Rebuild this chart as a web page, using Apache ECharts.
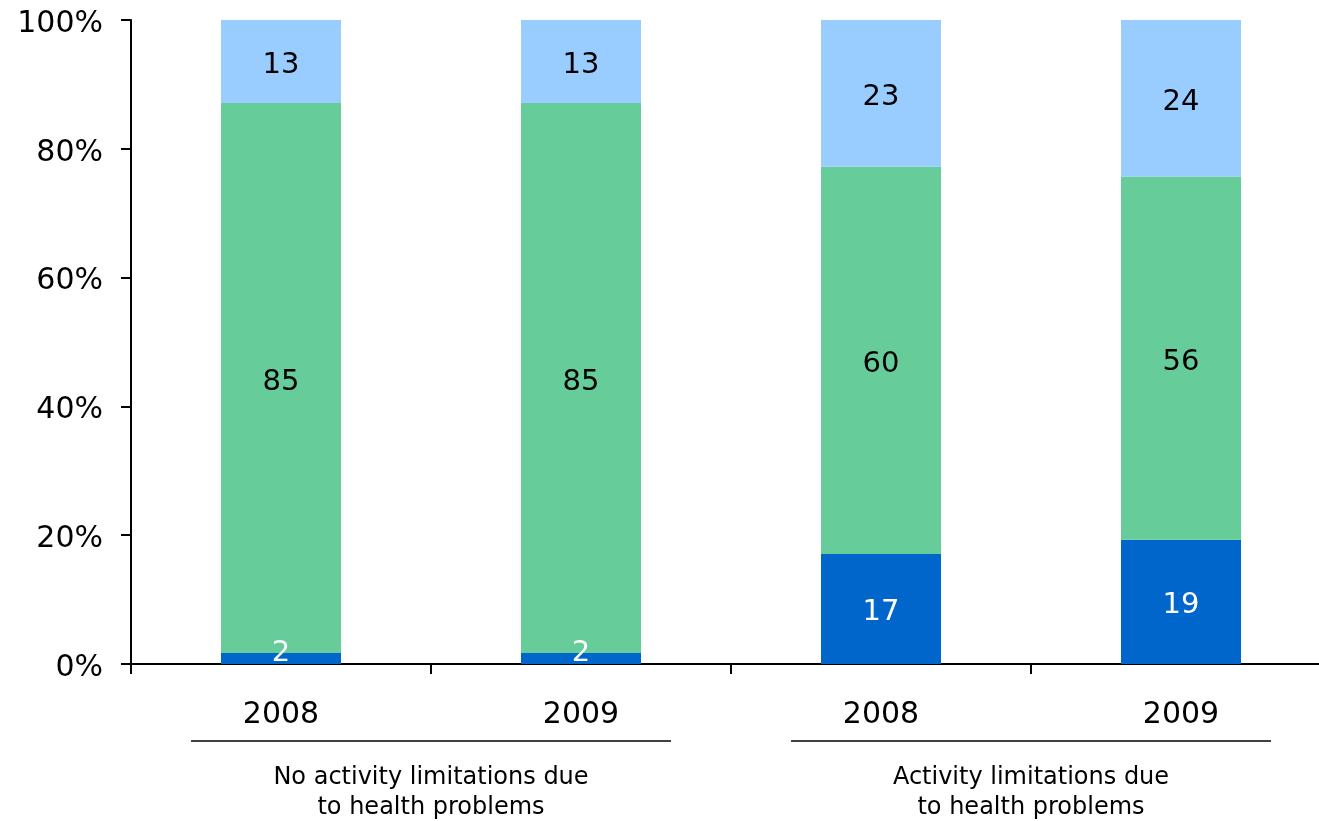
<!DOCTYPE html>
<html>
<head>
<meta charset="utf-8">
<script src="https://cdn.jsdelivr.net/npm/echarts@6/dist/echarts.min.js"></script>
<style>
  html, body { margin: 0; padding: 0; background: #fff; }
  #chart { width: 1319px; height: 821px; }
</style>
</head>
<body>
<div id="chart"></div>
<script>
const years = ['2008', '2009', '2008', '2009'];
const groups = ['No activity limitations due\nto health problems', 'Activity limitations due\nto health problems'];
const darkVals = [1.7, 1.7, 17.1, 19.3];
const greenVals = [85.4, 85.4, 60.1, 56.4];
const lightVals = [12.9, 12.9, 22.8, 24.3];
const yTicks = [0, 20, 40, 60, 80, 100];

const font = 'DejaVu Sans';
const chart = echarts.init(document.getElementById('chart'));

function seg(name, vals, color, txt) {
  return {
    name: name,
    type: 'bar',
    stack: 'all',
    barWidth: 120,
    // thin segments: label sits a little higher so it stays above the axis
    data: vals.map(v => (v < 5 ? { value: v, label: { offset: [0, -5] } } : v)),
    itemStyle: { color: color },
    label: {
      show: true,
      position: 'inside',
      offset: [0, 4],
      color: txt,
      fontFamily: font,
      fontSize: 29,
      formatter: p => Math.round(p.value)
    }
  };
}

chart.setOption({
  animation: false,
  grid: { left: 131, top: 20, right: -12, bottom: 157, outerBoundsMode: 'none' },
  xAxis: [
    {
      type: 'category',
      data: years,
      axisLine: { lineStyle: { color: '#000', width: 2 } },
      axisTick: { show: true, length: 10, lineStyle: { color: '#000', width: 2 } },
      axisLabel: { color: '#000', fontFamily: font, fontSize: 30, margin: 36 }
    },
    {
      type: 'category',
      position: 'bottom',
      data: groups,
      axisLine: { show: false },
      axisTick: { show: false },
      axisLabel: { color: '#000', fontFamily: font, fontSize: 24, lineHeight: 30, margin: 99 }
    }
  ],
  yAxis: {
    type: 'value',
    min: 0,
    max: 100,
    interval: 20,
    splitLine: { show: false },
    axisLine: { show: true, lineStyle: { color: '#000', width: 2 } },
    axisTick: { show: true, length: 10, lineStyle: { color: '#000', width: 2 } },
    axisLabel: {
      margin: 28,
      formatter: v => (yTicks.includes(v) ? '{p|' + v + '%}' : ''),
      rich: { p: { color: '#000', fontFamily: font, fontSize: 30, padding: [8, 0, 0, 0] } }
    }
  },
  series: [
    seg('dark', darkVals, '#0066CC', '#fff'),
    seg('green', greenVals, '#66CC99', '#000'),
    seg('light', lightVals, '#99CCFF', '#000')
  ]
});

// separator lines under the year labels, one per group
const c0 = chart.convertToPixel({ xAxisIndex: 0 }, 0);
const c1 = chart.convertToPixel({ xAxisIndex: 0 }, 1);
const step = c1 - c0;
const lineY = 741;
const lines = [[0, 1], [2, 3]].map(([a, b]) => ({
  type: 'line',
  shape: {
    x1: chart.convertToPixel({ xAxisIndex: 0 }, a) - 0.3 * step,
    y1: lineY,
    x2: chart.convertToPixel({ xAxisIndex: 0 }, b) + 0.3 * step,
    y2: lineY
  },
  style: { stroke: '#000', lineWidth: 1.5 }
}));
chart.setOption({ graphic: lines });
</script>
</body>
</html>
